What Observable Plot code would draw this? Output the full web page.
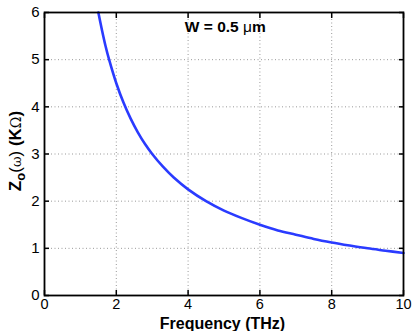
<!DOCTYPE html>
<html>
<head>
<meta charset="utf-8">
<script src="https://cdn.jsdelivr.net/npm/d3@7"></script>
<script src="https://cdn.jsdelivr.net/npm/@observablehq/plot@0.6"></script>
<style>
  html, body { margin: 0; padding: 0; background: #fff; }
</style>
</head>
<body>
<div id="chart"></div>
<script>
// Frequency (THz)
const freq = [1.5, 1.6, 1.7, 1.8, 2.0, 2.2, 2.4, 2.6, 2.8, 3.0, 3.3, 3.6, 4.0, 4.5, 5.0, 5.5, 6.0, 6.5, 7.0, 7.5, 8.0, 8.5, 9.0, 9.5, 10.0];
// Z_o(ω) (KΩ)
const zo = [6.0, 5.63, 5.29, 5.0, 4.5, 4.09, 3.75, 3.46, 3.21, 3.0, 2.73, 2.5, 2.25, 2.0, 1.8, 1.64, 1.5, 1.38, 1.29, 1.2, 1.125, 1.06, 1.0, 0.95, 0.9];
const xTicks = [0, 2, 4, 6, 8, 10];
const yTicks = [0, 1, 2, 3, 4, 5, 6];
const xGrid = [2, 4, 6, 8];
const yGrid = [1, 2, 3, 4, 5];
const annotation = [{x: 5.05, y: 5.66, label: "W = 0.5 "}];

const data = freq.map((f, i) => ({f, z: zo[i]}));
const font = "'Liberation Sans', Arial, Helvetica, sans-serif";

const plot = Plot.plot({
  width: 415,
  height: 331,
  marginLeft: 44,
  marginRight: 12,
  marginTop: 12,
  marginBottom: 36,
  style: {fontFamily: font, fontSize: "15px", color: "#000", background: "#fff"},
  x: {domain: [0, 10], label: null},
  y: {domain: [0, 6], label: null},
  marks: [
    Plot.ruleX(xGrid, {stroke: "#999", strokeDasharray: "1,2.5", strokeWidth: 1}),
    Plot.ruleY(yGrid, {stroke: "#999", strokeDasharray: "1,2.5", strokeWidth: 1}),
    Plot.line(data, {x: "f", y: "z", stroke: "#2a3bff", strokeWidth: 2.6, curve: "catmull-rom"}),
    // labels
    Plot.axisX(xTicks, {anchor: "bottom", tickSize: 0, tickPadding: 3, fontSize: 14.5}),
    Plot.axisY(yTicks, {anchor: "left", tickSize: 0, tickPadding: 5, fontSize: 15}),
    // inward ticks on all sides
    Plot.axisX(xTicks, {anchor: "bottom", tickSize: -5, text: null, strokeWidth: 1.5}),
    Plot.axisX(xTicks, {anchor: "top", tickSize: -5, text: null, label: null, strokeWidth: 1.5}),
    Plot.axisY(yTicks, {anchor: "left", tickSize: -5, text: null, strokeWidth: 1.5}),
    Plot.axisY(yTicks, {anchor: "right", tickSize: -5, text: null, label: null, strokeWidth: 1.5}),
    Plot.frame({stroke: "#000", strokeWidth: 1.8})
  ]
});

document.getElementById("chart").appendChild(plot);

const svg = d3.select(plot);
const W = 415, H = 331, mL = 44, mR = 12, mT = 12, mB = 36;
const xs = plot.scale("x"), ys = plot.scale("y");

// x label
svg.append("text")
  .attr("x", (mL + W - mR) / 2 - 1)
  .attr("y", 329)
  .attr("text-anchor", "middle")
  .attr("font-family", font)
  .attr("font-weight", "bold")
  .attr("font-size", 16)
  .text("Frequency (THz)");

// y label with subscript and Greek letters
const yl = svg.append("text")
  .attr("transform", `translate(21,151) rotate(-90)`)
  .attr("text-anchor", "middle")
  .attr("font-family", font)
  .attr("font-weight", "bold")
  .attr("font-size", 17);
yl.append("tspan").text("Z");
yl.append("tspan").attr("font-size", 13).attr("dy", 4).text("o");
yl.append("tspan").attr("dy", -4).attr("font-weight", "normal").text("(");
yl.append("tspan").attr("font-weight", "normal").attr("font-family", "'DejaVu Serif', serif").attr("font-size", 13).text("ω");
yl.append("tspan").attr("font-weight", "normal").text(")");
yl.append("tspan").text(" (K");
yl.append("tspan").attr("font-weight", "normal").attr("font-family", "'DejaVu Serif', serif").attr("font-size", 14).text("Ω");
yl.append("tspan").text(")");

// annotation
annotation.forEach(a => {
  const t = svg.append("text")
    .attr("x", xs.apply(a.x))
    .attr("y", ys.apply(a.y))
    .attr("text-anchor", "middle")
    .attr("dominant-baseline", "middle")
    .attr("font-family", font)
    .attr("font-weight", "bold")
    .attr("font-size", 15.5);
  t.append("tspan").text(a.label);
  t.append("tspan").attr("font-weight", "normal").text("μ");
  t.append("tspan").text("m");
});
</script>
</body>
</html>
